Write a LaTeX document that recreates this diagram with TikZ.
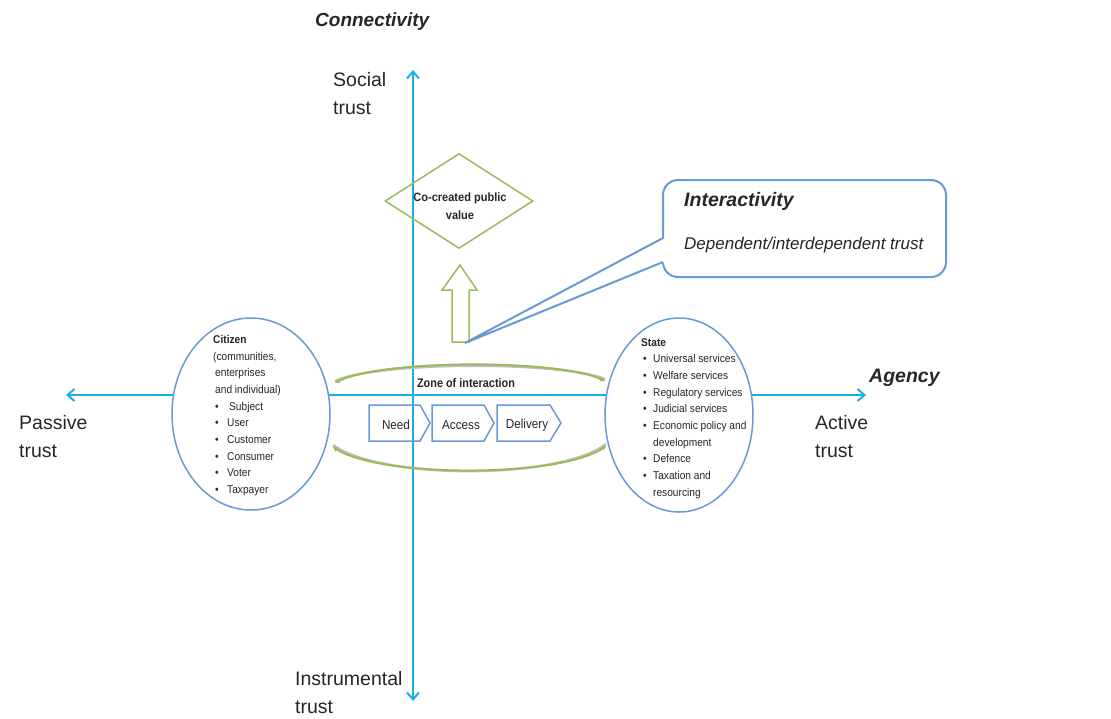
\documentclass[tikz,border=0pt]{standalone}
\usepackage{fontspec}
\setmainfont{Liberation Sans}
\newfontfamily\narrowfnt[FakeStretch=0.9]{Liberation Sans}
\newfontfamily\narrowzone[FakeStretch=0.87]{Liberation Sans}
\newfontfamily\narrowdia[FakeStretch=0.92]{Liberation Sans}
\usetikzlibrary{arrows.meta,shapes.geometric}
\definecolor{axiscyan}{HTML}{1AAFE6}
\definecolor{ellblue}{HTML}{6A9AD6}
\definecolor{zonegreen}{HTML}{9BBB59}
\definecolor{txt}{HTML}{262626}
\newcommand\blt[2]{\makebox[#1][l]{\textbullet}#2}
\begin{document}
\begin{tikzpicture}[x=1pt,y=-1pt,
  axis/.style={draw=axiscyan, line width=2, {Straight Barb[length=7,width=12]}-{Straight Barb[length=7,width=12]}},
  bigtxt/.style={font=\fontsize{19.5}{28}\selectfont, text=txt, align=left, inner sep=0},
  heading/.style={font=\bfseries\itshape\fontsize{19.5}{22}\selectfont, text=txt, inner sep=0},
  ell/.style={ellipse, draw=ellblue, line width=1.5, fill=white, inner sep=0},
  smalllist/.style={font=\narrowfnt\fontsize{11.3}{16.7}\selectfont, text=txt, align=left, inner sep=0},
  chevbox/.style={draw=ellblue, line width=1.5, line join=miter},
  chevtxt/.style={font=\narrowfnt\fontsize{13}{15}\selectfont, text=txt, inner sep=0},
  zonearc/.style={draw=zonegreen, line width=2, {Stealth[length=5,width=5]}-{Stealth[length=5,width=5]}},
  zoneshadow/.style={draw=black!25, line width=2.5},
  callout/.style={draw=ellblue, line width=2}
]
\useasboundingbox (0,0) rectangle (1111,718);

% axes
\coordinate (vtop) at (413,70);
\coordinate (vbot) at (413,701);
\coordinate (hleft) at (66,395);
\coordinate (hright) at (866,395);
\draw[axis] (vbot) -- (vtop);
\draw[axis] (hleft) -- (hright);

% axis labels
\node[heading, anchor=west, font=\bfseries\itshape\fontsize{19}{22}\selectfont] (connectivity) at (315,22) {Connectivity};
\node[heading, anchor=west] (agency) at (869,378) {Agency};
\node[bigtxt, anchor=north west] (social) at (333,72) {Social\\trust};
\node[bigtxt, anchor=north west] (passive) at (19,415) {Passive\\trust};
\node[bigtxt, anchor=north west] (active) at (815,415) {Active\\trust};
\node[bigtxt, anchor=north west] (instrumental) at (295,671) {Instrumental\\trust};

% ellipses
\node[ell, minimum width=158, minimum height=192] (citizen) at (251,414) {};
\node[ell, minimum width=148, minimum height=194] (state) at (679,415) {};

\node[smalllist, anchor=north west] (citizentxt) at (213,335) {\textbf{Citizen}\\(communities,\\\hspace{2pt}enterprises\\\hspace{2pt}and individual)\\
\hspace{2pt}\blt{14pt}{Subject}\\\hspace{2pt}\blt{12pt}{User}\\\hspace{2pt}\blt{12pt}{Customer}\\\hspace{2pt}\blt{12pt}{Consumer}\\\hspace{2pt}\blt{12pt}{Voter}\\\hspace{2pt}\blt{12pt}{Taxpayer}};

\node[smalllist, anchor=north west] (statetxt) at (641,338) {\textbf{State}\\
\hspace{2pt}\blt{10pt}{Universal services}\\\hspace{2pt}\blt{10pt}{Welfare services}\\\hspace{2pt}\blt{10pt}{Regulatory services}\\\hspace{2pt}\blt{10pt}{Judicial services}\\\hspace{2pt}\blt{10pt}{Economic policy and}\\\hspace{12pt}development\\\hspace{2pt}\blt{10pt}{Defence}\\\hspace{2pt}\blt{10pt}{Taxation and}\\\hspace{12pt}resourcing};

% zone of interaction
\coordinate (ztl) at (335,383);
\coordinate (ztr) at (605,381);
\coordinate (zbl) at (333,447);
\coordinate (zbr) at (606,446);
\draw[zoneshadow] ([yshift=2]ztl) .. controls (380,361) and (560,361) .. ([yshift=2]ztr);
\draw[zoneshadow] ([yshift=2]zbl) .. controls (380,480) and (560,480) .. ([yshift=2]zbr);
\draw[zonearc] (ztl) .. controls (380,359) and (560,359) .. (ztr);
\draw[zonearc] (zbl) .. controls (380,478) and (560,478) .. (zbr);
\node[font=\narrowzone\bfseries\fontsize{12.5}{14}\selectfont, text=txt, inner sep=0] (zonetxt) at (466,383) {Zone of interaction};

% process chevrons
\draw[chevbox] (369,405) -- (420,405) -- (430,423) -- (420,441) -- (369,441) -- cycle;
\draw[chevbox] (432,405) -- (484,405) -- (494,423) -- (484,441) -- (432,441) -- cycle;
\draw[chevbox] (497,405) -- (550,405) -- (561,423) -- (550,441) -- (497,441) -- cycle;
\node[chevtxt] (need) at (396,425) {Need};
\node[chevtxt] (access) at (461,425) {Access};
\node[chevtxt] (delivery) at (527,425) {Delivery};

% co-created public value
\node[diamond, draw=zonegreen, line width=1.5, aspect=1.56, minimum width=148, minimum height=95, inner sep=0] (value) at (459,201) {};
\node[font=\narrowdia\bfseries\fontsize{12}{18}\selectfont, text=txt, align=center, inner sep=0] (valuetxt) at (460,206) {Co-created public\\value};

% block arrow
\draw[draw=zonegreen, line width=1.5, fill=white, line join=miter] (452,342) -- (452,290) -- (442,290) -- (460,265) -- (477,290) -- (469,290) -- (469,342) -- cycle;

% callout
\node[callout, rounded corners=15, fill=white, minimum width=283, minimum height=97, inner sep=0] (interbox) at (804.5,228.5) {};
\coordinate (ptip) at (465,343);
\coordinate (pa) at (663,238);
\coordinate (pb) at (663,262);
\fill[white] ([xshift=2]pa) -- (ptip) -- ([xshift=2]pb) -- cycle;
\draw[callout, line join=miter] (pa) -- (ptip) -- (pb);
\node[heading, anchor=west] (intertitle) at (684,201) {Interactivity};
\node[font=\itshape\fontsize{17}{19}\selectfont, text=txt, inner sep=0, anchor=west] (intertxt) at (684,245) {Dependent/interdependent trust};
\end{tikzpicture}
\end{document}
